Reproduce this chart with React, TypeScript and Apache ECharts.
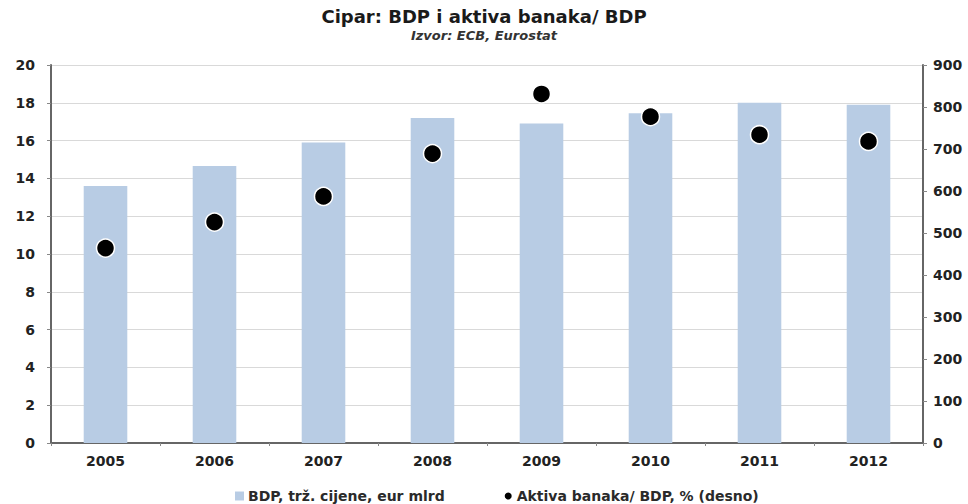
import React, { useEffect, useRef } from "react";
import * as echarts from "echarts";

const categories = ["2005", "2006", "2007", "2008", "2009", "2010", "2011", "2012"];
const gdpValues = [13.6, 14.65, 15.9, 17.2, 16.9, 17.45, 18.0, 17.9];
const bankAssetsRatio = [464, 526, 587, 689, 831, 777, 734, 718];
const leftTicks = { min: 0, max: 20, interval: 2 };
const rightTicks = { min: 0, max: 900, interval: 100 };

const FONT = "'DejaVu Sans', 'Liberation Sans', Arial, sans-serif";

export default function App() {
  const ref = useRef<HTMLDivElement>(null);
  useEffect(() => {
    if (!ref.current) return;
    const chart = echarts.init(ref.current, undefined, { renderer: "svg" });
    chart.setOption({
      animation: false,
      backgroundColor: "#ffffff",
      textStyle: { fontFamily: FONT },
      title: [
        {
          text: "Cipar: BDP i aktiva banaka/ BDP",
          left: "center",
          top: 5,
          padding: 0,
          textStyle: { fontFamily: FONT, fontSize: 18, lineHeight: 22, fontWeight: "bold", color: "#1a1a1a" },
        },
        {
          text: "Izvor: ECB, Eurostat",
          left: "center",
          top: 28,
          padding: 0,
          textStyle: { fontFamily: FONT, fontSize: 13, lineHeight: 15, fontStyle: "italic", fontWeight: "bold", color: "#333" },
        },
      ],
      legend: {
        top: 484,
        left: 230,
        itemGap: 58,
        itemWidth: 9,
        itemHeight: 9,
        textStyle: { fontFamily: FONT, fontSize: 14, fontWeight: "bold", color: "#2a2a2a", padding: [0, 0, 0, -1] },
        data: [
          { name: "BDP, trž. cijene, eur mlrd", icon: "rect", itemStyle: { color: "#b8cce4" } },
          { name: "Aktiva banaka/ BDP, % (desno)", icon: "circle", itemStyle: { color: "#000" } },
        ],
      },
      grid: { left: 51, right: 45, top: 65, bottom: 61, containLabel: false },
      xAxis: {
        type: "category",
        data: categories,
        axisLine: { lineStyle: { color: "#666", width: 2 } },
        axisTick: { show: true, length: 3, lineStyle: { color: "#888" } },
        axisLabel: { fontFamily: FONT, fontSize: 14, fontWeight: "bold", color: "#222", margin: 11 },
      },
      yAxis: [
        {
          type: "value",
          min: leftTicks.min,
          max: leftTicks.max,
          interval: leftTicks.interval,
          axisLine: { show: true, lineStyle: { color: "#666", width: 2 } },
          axisTick: { show: true, length: 4, lineStyle: { color: "#888" } },
          axisLabel: { fontFamily: FONT, fontSize: 14, fontWeight: "bold", color: "#222", margin: 16 },
          splitLine: { show: true, lineStyle: { color: "#d9d9d9", width: 1 } },
        },
        {
          type: "value",
          min: rightTicks.min,
          max: rightTicks.max,
          interval: rightTicks.interval,
          position: "right",
          axisLine: { show: true, lineStyle: { color: "#666", width: 2 } },
          axisTick: { show: true, length: 4, lineStyle: { color: "#888" } },
          axisLabel: { fontFamily: FONT, fontSize: 14, fontWeight: "bold", color: "#222", margin: 10 },
          splitLine: { show: false },
        },
      ],
      series: [
        {
          name: "BDP, trž. cijene, eur mlrd",
          type: "bar",
          data: gdpValues,
          barWidth: "40%",
          itemStyle: { color: "#b8cce4" },
          yAxisIndex: 0,
        },
        {
          name: "Aktiva banaka/ BDP, % (desno)",
          type: "scatter",
          data: bankAssetsRatio,
          yAxisIndex: 1,
          symbol: "circle",
          symbolSize: 18,
          itemStyle: { color: "#000", opacity: 1, borderColor: "#fff", borderWidth: 1.5 },
        },
      ],
    });
    return () => chart.dispose();
  }, []);
  return (
    <div
      ref={ref}
      style={{ position: "fixed", left: 0, top: 0, width: 968, height: 504 }}
    />
  );
}
